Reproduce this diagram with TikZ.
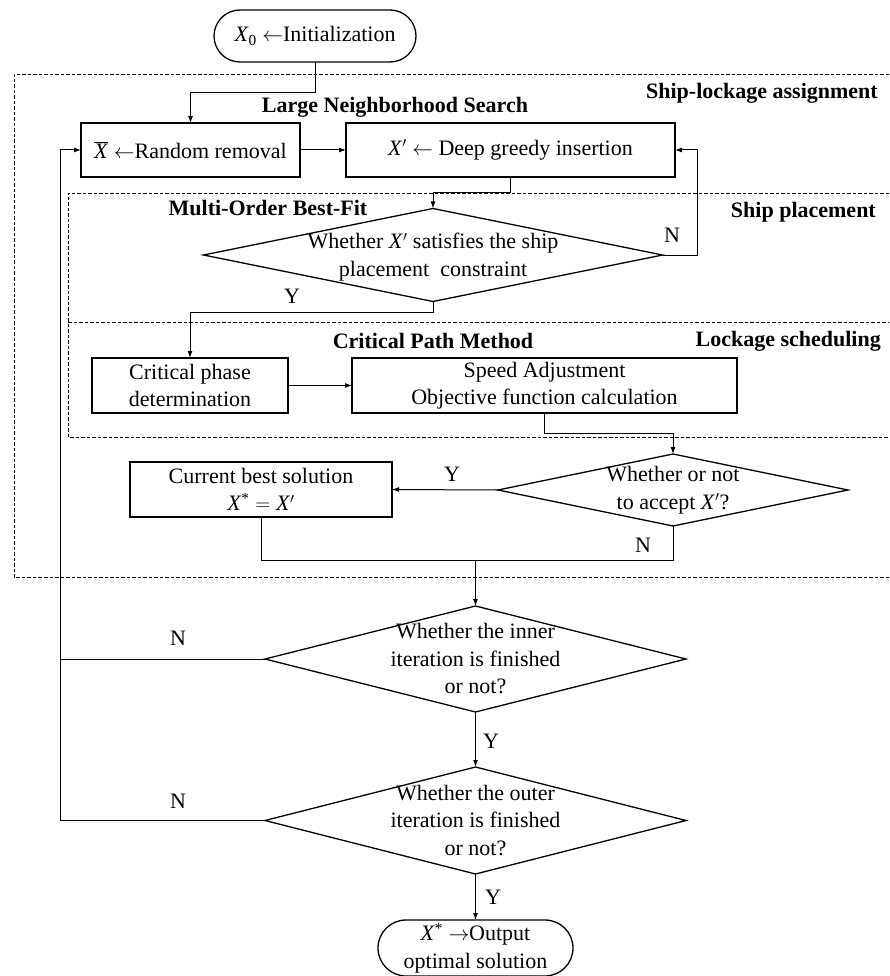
\documentclass[tikz,border=0pt]{standalone}
\usepackage{fontspec}
\setmainfont{Liberation Serif}
\usetikzlibrary{shapes.geometric,shapes.misc,arrows.meta}
\newcommand{\Xv}{\textit{X}}
\newcommand{\Xp}{\textit{X}$'$}
\newcommand{\Xs}{\textit{X}\textsuperscript{*}}
\begin{document}
\begin{tikzpicture}[x=1pt,y=-1pt,
  every node/.style={font=\fontsize{22}{27.5}\selectfont},
  proc/.style={draw,line width=1.3pt,rectangle,inner sep=0pt,outer sep=0pt,align=center},
  term/.style={draw,line width=1.3pt,rounded rectangle,inner sep=0pt,outer sep=0pt,align=center},
  dia/.style={draw,line width=1.3pt,diamond,inner sep=0pt,outer sep=0pt},
  dtext/.style={align=center,inner sep=0pt},
  arr/.style={line width=1pt,-{Latex[length=7pt,width=5pt]}},
  ln/.style={line width=1pt},
  region/.style={line width=0.9pt,dash pattern=on 3.5pt off 2pt},
  btitle/.style={font=\fontsize{22}{27}\selectfont\bfseries,inner sep=0pt},
  yn/.style={inner sep=0pt}]
\useasboundingbox (0,0) rectangle (889,976);

% regions
\draw[region] (889,74) -- (14,74) -- (14,577) -- (889,577);
\draw[region] (889,193) -- (68,193) -- (68,437) -- (889,437);
\draw[region] (68,322) -- (889,322);

\node[btitle,anchor=east] (t1) at (878,93) {Ship-lockage assignment};
\node[btitle] (t2) at (395,107) {Large Neighborhood Search};
\node[btitle] (t3) at (268,208) {Multi-Order Best-Fit};
\node[btitle,anchor=east] (t4) at (876,212) {Ship placement};
\node[btitle] (t5) at (433,341) {Critical Path Method};
\node[btitle,anchor=east] (t6) at (881,341) {Lockage scheduling};

% nodes
\node[term,minimum width=202,minimum height=52] (start) at (315,36) {\Xv\textsubscript{0} $\leftarrow$Initialization};
\node[proc,minimum width=219,minimum height=54] (rr) at (190.5,150) {$\overline{\mbox{\Xv}}$ $\leftarrow$Random removal};
\node[proc,minimum width=329,minimum height=54] (dgi) at (510.5,150) {\Xp\ $\leftarrow$ Deep greedy insertion};
\node[dia,minimum width=459,minimum height=93] (d1) at (433,255) {};
\node[dtext] (d1t) at ([yshift=-2pt]d1.center) {Whether \Xp\ satisfies the ship\\placement\ \ constraint};
\node[proc,minimum width=196,minimum height=55] (cpd) at (190,385.5) {Critical phase\\determination};
\node[proc,minimum width=385,minimum height=55] (sa) at (544.5,385.5) {Speed Adjustment\\Objective function calculation};
\node[dia,minimum width=350,minimum height=72] (d2) at (673,490) {};
\node[dtext] (d2t) at (d2.center) {Whether or not\\to accept \Xp?};
\node[proc,minimum width=262,minimum height=55] (cbs) at (261,489.5) {Current best solution\\\Xs${}={}$\Xp};
\node[dia,minimum width=421,minimum height=106] (d3) at (475.5,659) {};
\node[dtext] (d3t) at (d3.center) {Whether the inner\\iteration is finished\\or not?};
\node[dia,minimum width=421,minimum height=107] (d4) at (475.5,820.5) {};
\node[dtext] (d4t) at (d4.center) {Whether the outer\\iteration is finished\\or not?};
\node[term,minimum width=195,minimum height=56] (end) at (475.5,948) {\Xs\ $\rightarrow$Output\\optimal solution};

\coordinate (c1) at (315,93);
\coordinate (m) at (475.5,560);
\coordinate (lx) at (60,0);

% connectors
\draw[arr] (start.south) -- (c1) -| (rr.north);
\draw[arr] (rr.east) -- (dgi.west);
\draw[arr] (dgi.south) -- ++(0,16) -| (d1.north);
\draw[arr] (d1.east) -- ++(35,0) |- (dgi.east);
\draw[arr] (d1.south) -- ++(0,11) -| (cpd.north);
\draw[arr] (cpd.east) -- (sa.west);
\draw[arr] (sa.south) -- ++(0,20) -| (d2.north);
\draw[arr] (d2.west) -- (cbs.east);
\draw[ln] (d2.south) |- (m);
\draw[ln] (cbs.south) |- (m);
\draw[arr] (m) -- (d3.north);
\draw[arr] (d3.south) -- (d4.north);
\draw[arr] (d4.south) -- (end.north);
\draw[ln] (d3.west) -- (d3.west -| lx);
\draw[arr] (d4.west) -- (d4.west -| lx) |- (rr.west);

% labels
\node[yn] (n1) at (672,235) {N};
\node[yn] (y1) at (292,296) {Y};
\node[yn] (y2) at (452,474) {Y};
\node[yn] (n2) at (643,545) {N};
\node[yn] (n3) at (178,638) {N};
\node[yn] (y3) at (491,741) {Y};
\node[yn] (n4) at (178,801) {N};
\node[yn] (y4) at (493,897) {Y};
\end{tikzpicture}
\end{document}
